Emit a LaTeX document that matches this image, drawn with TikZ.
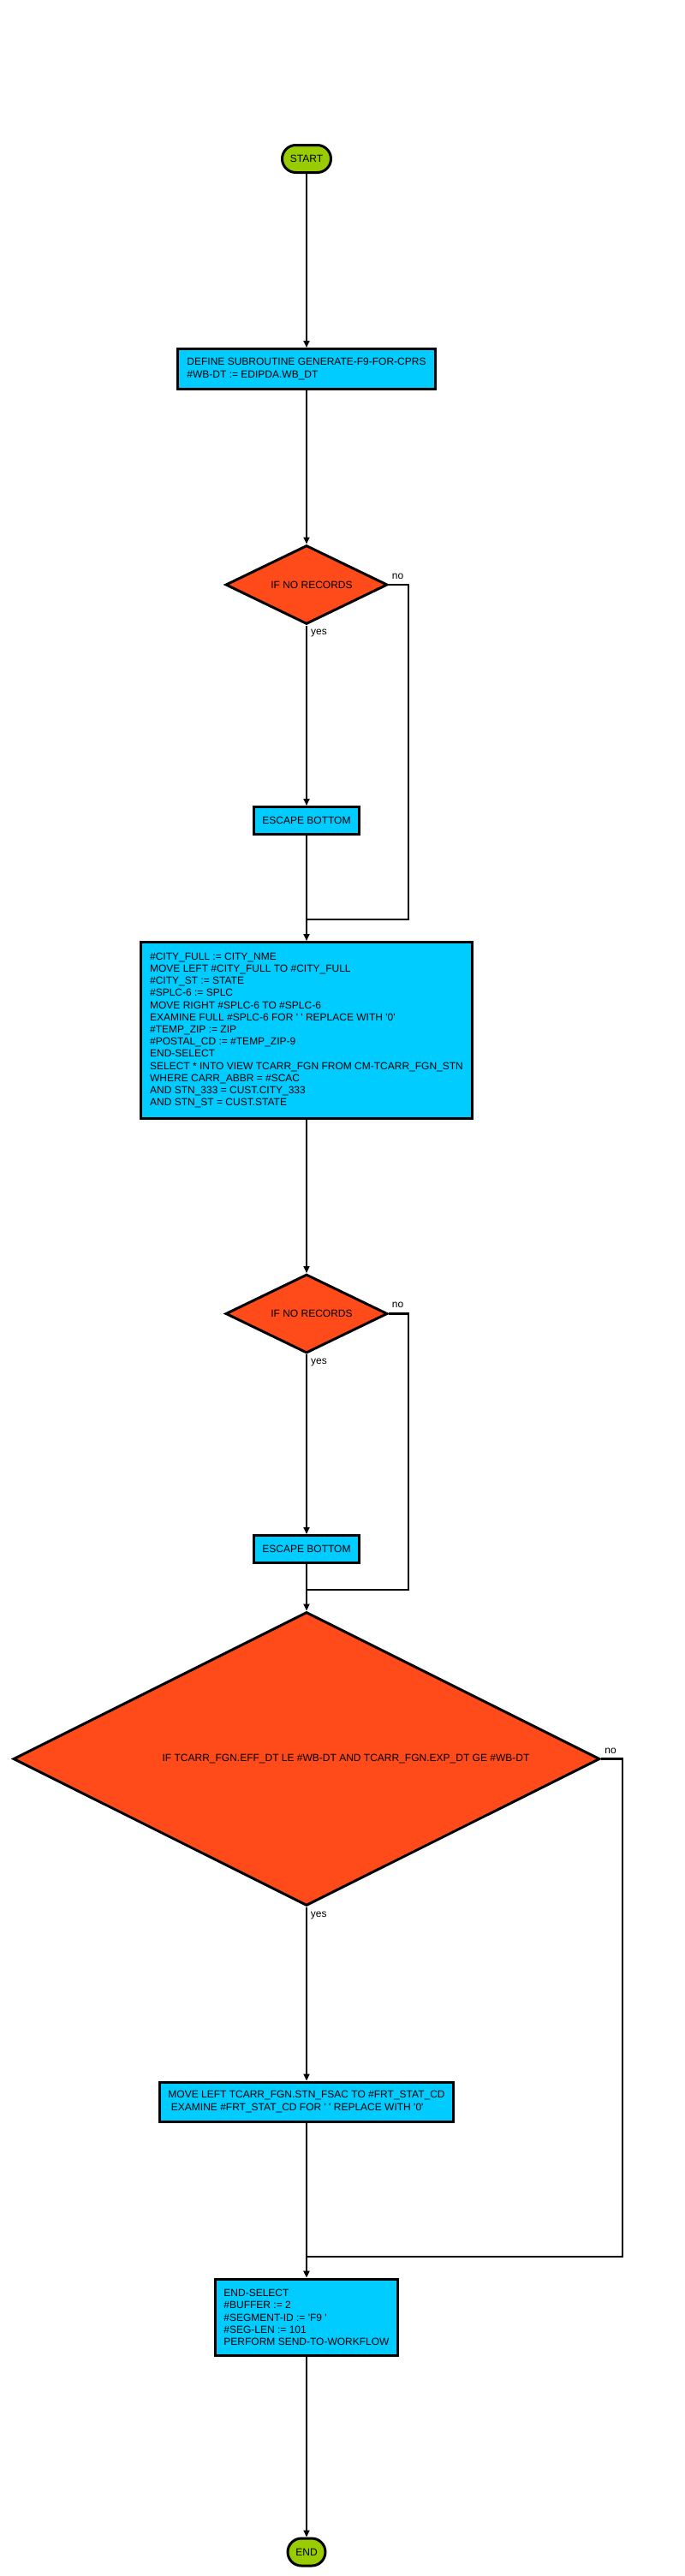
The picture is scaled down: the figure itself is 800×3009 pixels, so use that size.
\documentclass[tikz,border=0pt]{standalone}
\usepackage{fontspec}
\setmainfont{Liberation Sans}
\usetikzlibrary{shapes.geometric,arrows.meta}
\definecolor{termgreen}{HTML}{99CC00}
\definecolor{procblue}{HTML}{00CCFF}
\definecolor{decred}{HTML}{FF4A1A}
\newcommand\sq{\textquotesingle}
\begin{document}
\begin{tikzpicture}[x=1pt,y=-1pt,
  every node/.style={font=\fontsize{12pt}{14.2pt}\selectfont},
  term/.style={draw=black,line width=3pt,fill=termgreen,rounded corners=16pt,inner sep=0pt},
  proc/.style={draw=black,line width=3pt,fill=procblue,align=left,inner xsep=9.5pt,inner ysep=0pt},
  dec/.style={draw=black,line width=3pt,fill=decred,diamond,inner sep=0pt},
  flow/.style={line width=2.2pt,-{Triangle[length=8pt,width=7pt]}},
  link/.style={line width=2.2pt},
  lbl/.style={inner sep=0pt}]
\useasboundingbox (0,0) rectangle (800,3009);

\node[term,minimum width=57pt,minimum height=32pt] (start) at (358,185.5) {START};
\node[proc,minimum width=301pt,minimum height=47pt] (def) at (358,431) {DEFINE SUBROUTINE GENERATE-F9-FOR-CPRS\\\#WB-DT := EDIPDA.WB\_DT};
\node[dec,minimum width=189pt,minimum height=92pt,label={[lbl,xshift=6pt]center:IF NO RECORDS}] (d1) at (358,683) {};
\node[proc,minimum width=121pt,minimum height=32pt] (esc1) at (358,958.5) {ESCAPE BOTTOM};
\node[proc,minimum width=387pt,minimum height=206pt] (big) at (358,1203.5) {\#CITY\_FULL := CITY\_NME\\
MOVE LEFT \#CITY\_FULL TO \#CITY\_FULL\\
\#CITY\_ST := STATE\\
\#SPLC-6 := SPLC\\
MOVE RIGHT \#SPLC-6 TO \#SPLC-6\\
EXAMINE FULL \#SPLC-6 FOR \sq{} \sq{} REPLACE WITH \sq{}0\sq{}\\
\#TEMP\_ZIP := ZIP\\
\#POSTAL\_CD := \#TEMP\_ZIP-9\\
END-SELECT\\
SELECT * INTO VIEW TCARR\_FGN FROM CM-TCARR\_FGN\_STN\\
WHERE CARR\_ABBR = \#SCAC\\
AND STN\_333 = CUST.CITY\_333\\
AND STN\_ST = CUST.STATE};
\node[dec,minimum width=189pt,minimum height=92pt,label={[lbl,xshift=6pt]center:IF NO RECORDS}] (d2) at (358,1534.5) {};
\node[proc,minimum width=121pt,minimum height=32pt] (esc2) at (358,1809.5) {ESCAPE BOTTOM};
\node[dec,minimum width=685pt,minimum height=343pt,label={[lbl,xshift=46pt]center:IF TCARR\_FGN.EFF\_DT LE \#WB-DT AND TCARR\_FGN.EXP\_DT GE \#WB-DT}] (d3) at (358,2054.5) {};
\node[proc,minimum width=342pt,minimum height=46pt] (mv) at (358,2455) {MOVE LEFT TCARR\_FGN.STN\_FSAC TO \#FRT\_STAT\_CD\\
\hspace*{3.5pt}EXAMINE \#FRT\_STAT\_CD FOR \sq{} \sq{} REPLACE WITH \sq{}0\sq{}};
\node[proc,minimum width=212pt,minimum height=89.7pt] (last) at (358,2707) {END-SELECT\\
\#BUFFER := 2\\
\#SEGMENT-ID := \sq{}F9 \sq{}\\
\#SEG-LEN := 101\\
PERFORM SEND-TO-WORKFLOW};
\node[term,minimum width=44pt,minimum height=32pt] (end) at (358,2981) {END};

% labels
\node[lbl,anchor=west] (yes1) at (363,740) {yes};
\node[lbl] (no1) at (464.5,673) {no};
\node[lbl,anchor=west] (yes2) at (363,1591.5) {yes};
\node[lbl] (no2) at (464.5,1524.5) {no};
\node[lbl,anchor=west] (yes3) at (362.7,2237.7) {yes};
\node[lbl] (no3) at (713,2045) {no};

% merge coordinates
\coordinate (c1) at (477,1074);
\coordinate (m1) at (358,1074);
\coordinate (c2) at (477,1857);
\coordinate (m2) at (358,1857);
\coordinate (c3) at (726.7,2636);
\coordinate (m3) at (358,2636);

% connectors
\draw[flow] (start.south) -- (def.north);
\draw[flow] (def.south) -- (d1.north);
\draw[flow] (d1.south) -- (esc1.north);
\draw[link] (d1.east) -| (c1) -- (m1);
\draw[flow] (esc1.south) -- (big.north);
\draw[flow] (big.south) -- (d2.north);
\draw[flow] (d2.south) -- (esc2.north);
\draw[link] (d2.east) -| (c2) -- (m2);
\draw[flow] (esc2.south) -- (d3.north);
\draw[flow] (d3.south) -- (mv.north);
\draw[link] (d3.east) -| (c3) -- (m3);
\draw[flow] (mv.south) -- (last.north);
\draw[flow] (last.south) -- (end.north);
\end{tikzpicture}
\end{document}
